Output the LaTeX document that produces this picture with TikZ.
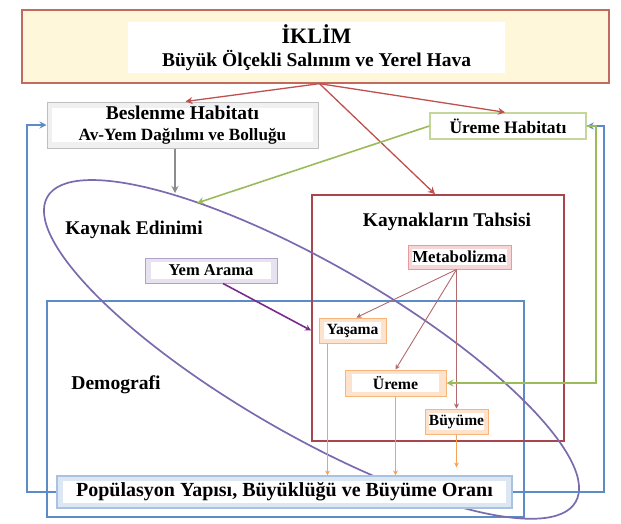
\documentclass[tikz,border=0pt]{standalone}
\usepackage{fontspec}
\setmainfont{Liberation Serif}
\usetikzlibrary{arrows.meta,calc}

\definecolor{climline}{HTML}{C26A5E}
\definecolor{climfill}{HTML}{FFF7D9}
\definecolor{arrred}{HTML}{C0504D}
\definecolor{greyline}{HTML}{BFBFBF}
\definecolor{greyfill}{HTML}{F0F0F0}
\definecolor{greyarrow}{HTML}{8C8C8C}
\definecolor{greenline}{HTML}{9BBB59}
\definecolor{greenbox}{HTML}{C3D69B}
\definecolor{allocred}{HTML}{A8464E}
\definecolor{metaline}{HTML}{E59C9C}
\definecolor{metafill}{HTML}{F6D6D6}
\definecolor{lavline}{HTML}{B3A2C7}
\definecolor{lavfill}{HTML}{E8E2F0}
\definecolor{deeppurple}{HTML}{7A2C8C}
\definecolor{ringpurple}{HTML}{7B6AAE}
\definecolor{rosebrown}{HTML}{B06A6E}
\definecolor{orline}{HTML}{F9B47A}
\definecolor{orfill}{HTML}{FDE3CC}
\definecolor{orarrow}{HTML}{F5A25A}
\definecolor{bluemain}{HTML}{5B8CC8}
\definecolor{popline}{HTML}{A9C2E2}
\definecolor{popfill}{HTML}{DCE7F4}

\tikzset{
  box/.style={draw=#1, line width=1pt, inner sep=0pt, align=center, text=black},
  inset/.style={path picture={\fill[white]
      ($(path picture bounding box.south west)+(#1)$) rectangle
      ($(path picture bounding box.north east)-(#1)$);}},
  fsz/.style={font=\fontsize{#1pt}{#1pt}\selectfont\bfseries},
  tip/.style={-{Stealth[length=#1pt,width=#1pt]}},
  redarrow/.style={arrred, line width=1.3pt, tip=7},
  bluearrow/.style={bluemain, line width=1.6pt, tip=7},
  greenarrow/.style={greenline, line width=1.6pt, tip=7},
  thinarrow/.style={line width=0.9pt, tip=5},
}

\begin{document}
\begin{tikzpicture}[x=1pt,y=-1pt]
\useasboundingbox (0,0) rectangle (621,523);

% large frames
\node[draw=bluemain, line width=1.8pt, minimum width=477pt, minimum height=216pt, inner sep=0pt] (demo) at (285.5,409) {};
\node[draw=allocred, line width=1.8pt, minimum width=252pt, minimum height=246pt, inner sep=0pt] (alloc) at (438,318) {};

% resource acquisition ring
\draw[ringpurple, line width=1.7pt, rotate around={-30:(311.5,349.4)}]
  (311.5,349.4) ellipse [x radius=305pt, y radius=85pt];

% climate
\node[box=climline, fill=climfill, line width=1.3pt, minimum width=587pt, minimum height=73pt] (clim) at (315.5,46.5) {};
\node[fill=white, inner sep=0pt, minimum width=377pt, minimum height=51pt, align=center,
      font=\fontsize{19.5pt}{23pt}\selectfont\bfseries] (climtext) at (316.5,47.5)
  {{\fontsize{22pt}{23pt}\selectfont İKLİM}\\
   Büyük Ölçekli Salınım ve Yerel Hava};

% habitats
\node[box=greyline, fill=greyfill, inset={5pt,6pt}, minimum width=271pt, minimum height=46pt,
      font=\fontsize{19.5pt}{21pt}\selectfont\bfseries] (besl) at (182.5,125)
  {Beslenme Habitatı\\
   {\fontsize{17.2pt}{21pt}\selectfont Av-Yem Dağılımı ve Bolluğu}};
\node[box=greenbox, fill=white, line width=1.4pt, fsz=17.5, minimum width=156pt, minimum height=26pt] (urhab) at (508,126) {Üreme Habitatı};

% section titles
\node[fsz=19.4, inner sep=0pt] (alloctitle) at (447,222) {Kaynakların Tahsisi};
\node[fsz=19.4, inner sep=0pt] (acqtitle) at (134,230) {Kaynak Edinimi};
\node[fsz=19.6, inner sep=0pt] (demotitle) at (116,385) {Demografi};

% inner boxes
\node[box=metaline, fill=metafill, inset={4pt,4pt}, fsz=16.8, minimum width=103pt, minimum height=24pt] (meta) at (459.5,257) {Metabolizma};
\node[box=lavline, fill=lavfill, inset={6pt,4pt}, fsz=16.5, minimum width=132pt, minimum height=25pt] (yem) at (211,270.5) {Yem Arama};
\node[box=orline, fill=orfill, inset={5pt,4pt}, fsz=15.6, minimum width=67pt, minimum height=25pt] (yasama) at (352.5,330.5) {Yaşama};
\node[box=orline, fill=orfill, inset={7pt,4pt}, fsz=15.8, minimum width=101pt, minimum height=26pt] (ureme) at (395.5,383) {Üreme};
\node[box=orline, fill=orfill, inset={4pt,4pt}, fsz=15.5, minimum width=63pt, minimum height=25pt] (buyume) at (456.5,421.5) {Büyüme};

% connectors from climate
\draw[redarrow] ([xshift=4pt]clim.south) -- ([xshift=3pt]besl.north);
\draw[redarrow] ([xshift=4pt]clim.south) -- ([xshift=-3pt]urhab.north);
\draw[redarrow] ([xshift=4pt]clim.south) -- ([xshift=-3pt]alloc.north);

% habitats feeding acquisition
\coordinate (acqtop) at (175,193);
\coordinate (acqside) at (197,203);
\draw[greyarrow, line width=1.6pt, tip=7] (besl.south -| acqtop) -- (acqtop);
\draw[greenarrow] (urhab.west) -- (acqside);

% foraging to survival
\draw[deeppurple, line width=1.6pt, tip=6] ([xshift=12pt]yem.south) -- (yasama.west -| alloc.west);

% allocation of metabolism
\coordinate (mbot) at ([xshift=-3pt]meta.south);
\draw[rosebrown, thinarrow] (mbot) -- ([xshift=4pt]yasama.north);
\draw[rosebrown, thinarrow] (mbot) -- (ureme.north);
\draw[rosebrown, thinarrow] (mbot) -- (buyume.north);

% population box
\node[box=popline, fill=popfill, line width=1.2pt, inset={6pt,5pt}, fsz=20, minimum width=455pt, minimum height=32pt] (pop) at (284.5,492)
  {Popülasyon Yapısı, Büyüklüğü ve Büyüme Oranı};

% vital rates to population
\draw[orarrow, thinarrow] ([xshift=-25pt]yasama.south) coordinate (ys) -- (ys |- pop.north);
\draw[orarrow, thinarrow] (ureme.south) -- (ureme.south |- pop.north);
\draw[orarrow, thinarrow, shorten >=8pt] (buyume.south) -- (buyume.south |- pop.north);

% feedback loops
\draw[bluearrow] (pop.west) -| (27,125) -- (besl.west);
\draw[bluearrow] (pop.east) -| (604,126) -- (urhab.east);
\draw[greenarrow] (urhab.east) -| (596,383) -- (ureme.east);
\end{tikzpicture}
\end{document}
